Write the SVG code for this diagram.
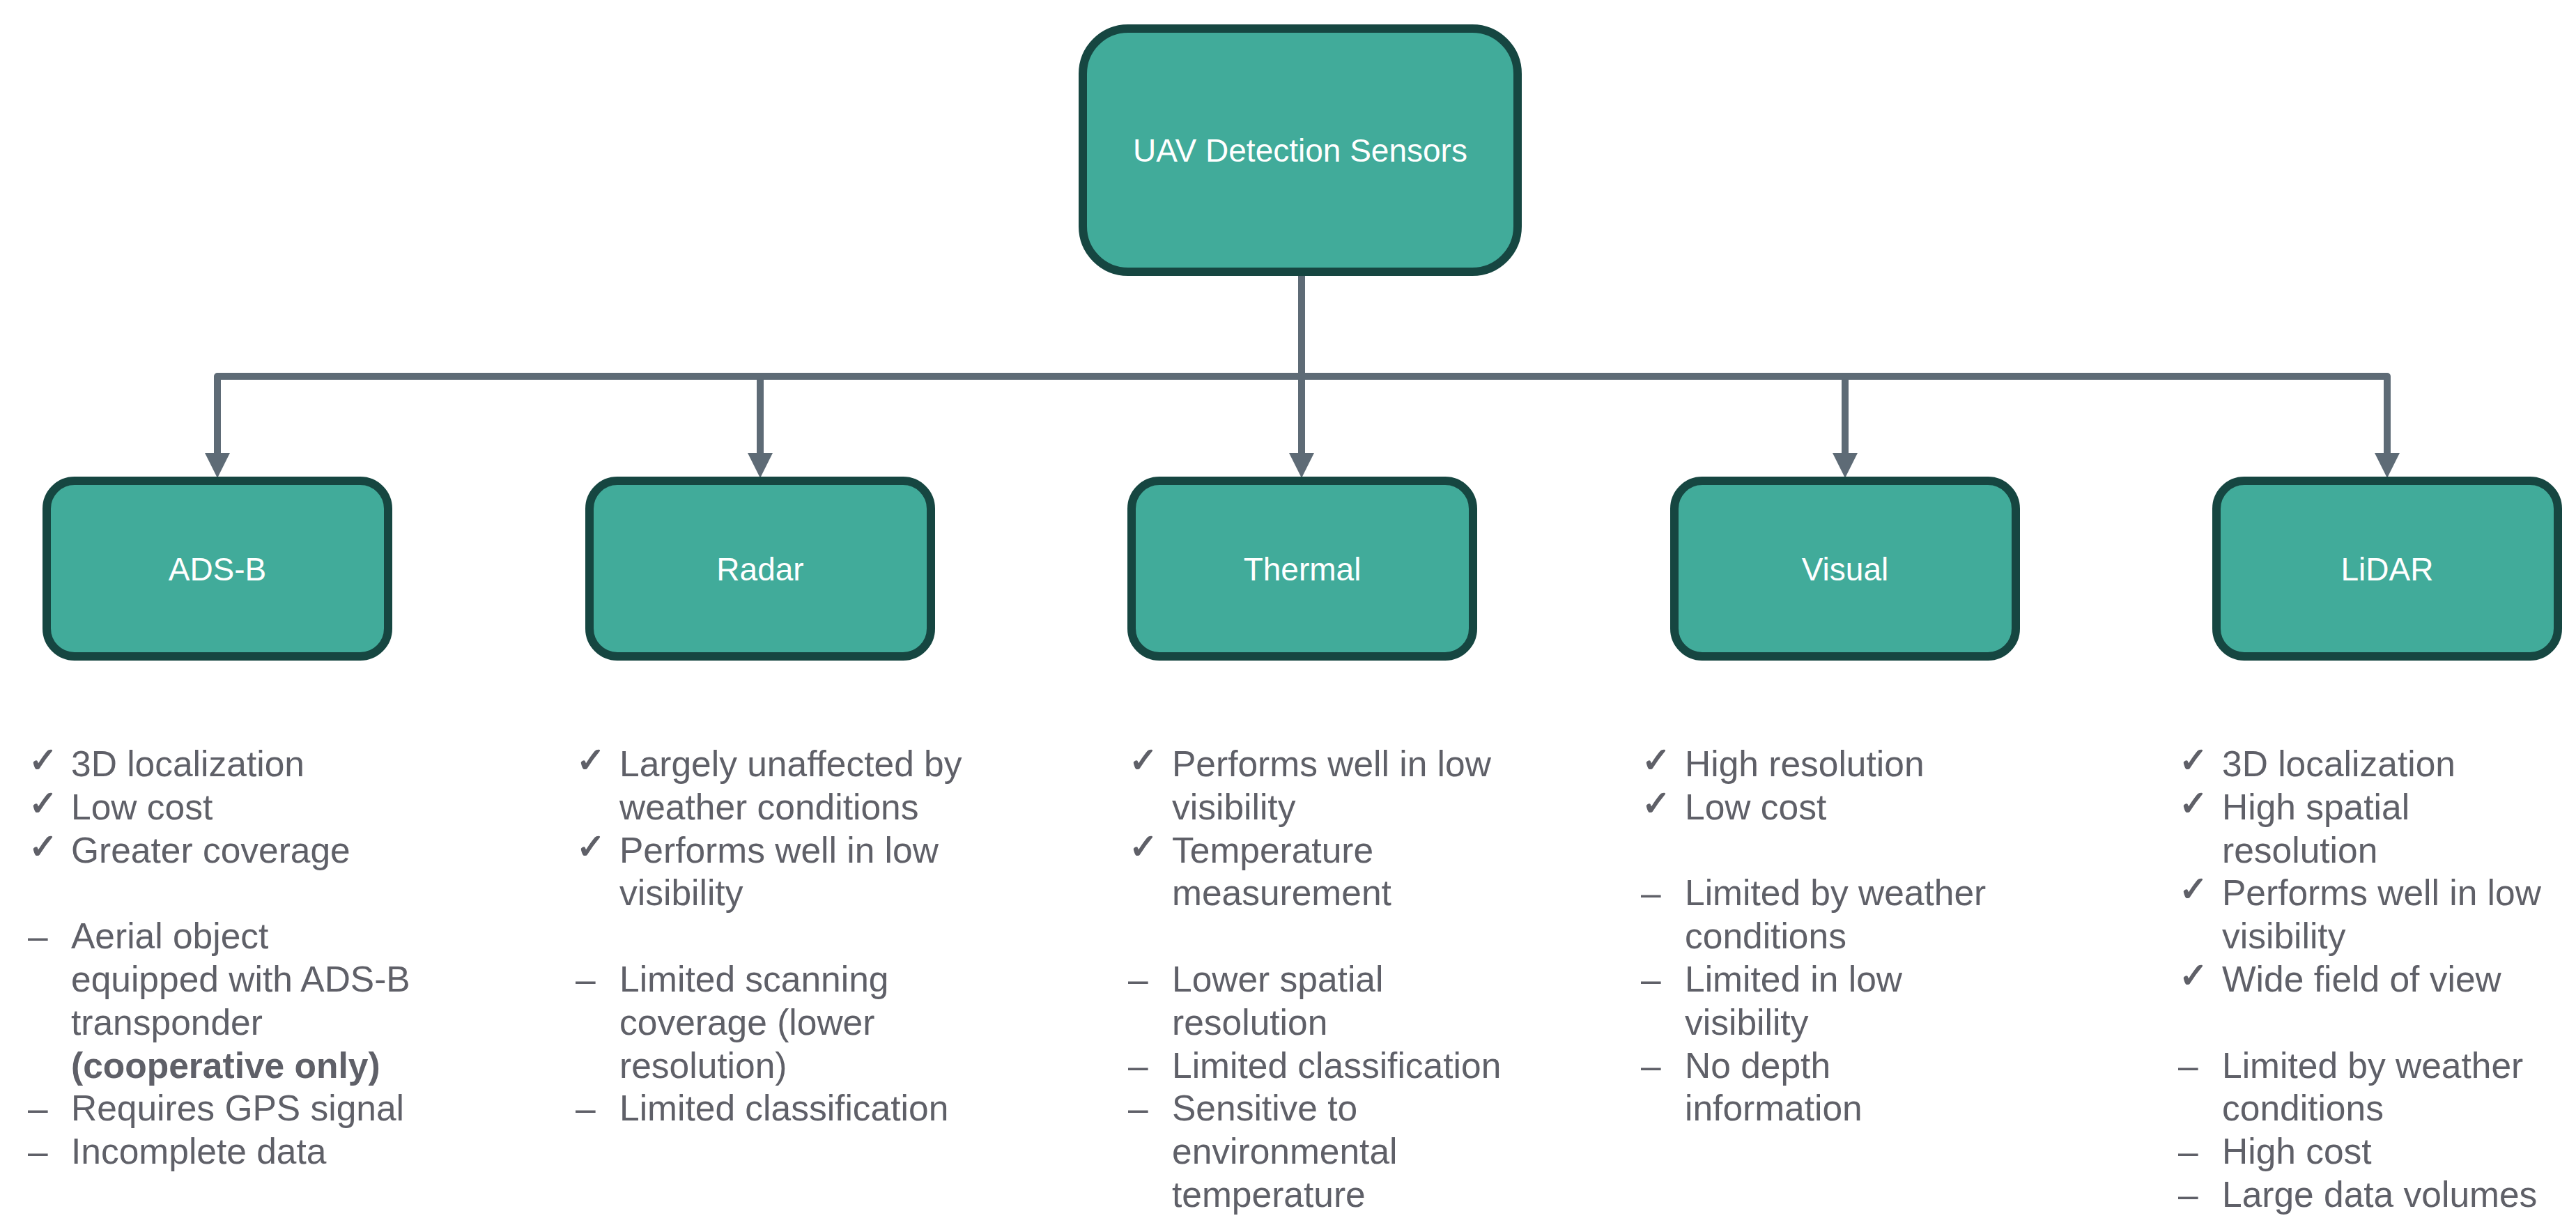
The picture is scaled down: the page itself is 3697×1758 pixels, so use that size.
<svg xmlns="http://www.w3.org/2000/svg" width="3697" height="1758" viewBox="0 0 3697 1758">
<defs>
<style>
.box{fill:#41ab9a;stroke:#164641;stroke-width:12}
.lbl{font-family:"Liberation Sans",Arial,sans-serif;font-size:46px;fill:#ffffff;text-anchor:middle}
.conn{fill:none;stroke:#5e6b76;stroke-width:10;stroke-linejoin:round}
.item{font-family:"Liberation Sans",Arial,sans-serif;font-size:51.5px;fill:#5f6068}
.bul{font-family:"DejaVu Sans",sans-serif;font-size:50px;fill:#5f6068;stroke:#5f6068;stroke-width:1.5}
.dash{font-family:"Liberation Sans",Arial,sans-serif;font-size:51.5px;fill:#5f6068}
.b{font-weight:bold}
</style>
<marker id="arr" viewBox="0 0 36 36" refX="0" refY="18" markerWidth="36" markerHeight="36" markerUnits="userSpaceOnUse" orient="auto">
<path d="M0,0 L36,18 L0,36 z" fill="#5e6b76"/>
</marker>
</defs>
<rect width="3697" height="1758" fill="#ffffff"/>
<g id="connectors">
<path class="conn" d="M1868,396 V650" marker-end="url(#arr)"/>
<path class="conn" d="M1868,540 H312 V650" marker-end="url(#arr)"/>
<path class="conn" d="M1868,540 H1091 V650" marker-end="url(#arr)"/>
<path class="conn" d="M1868,540 H2648 V650" marker-end="url(#arr)"/>
<path class="conn" d="M1868,540 H3426 V650" marker-end="url(#arr)"/>
</g>
<g id="root">
<rect class="box" x="1554" y="41" width="624" height="349" rx="65"/>
<text class="lbl" x="1866" y="232">UAV Detection Sensors</text>
</g>
<g id="adsb">
<rect class="box" x="67" y="690" width="490" height="252" rx="40"/>
<text class="lbl" x="312" y="833">ADS-B</text>
</g>
<g id="radar">
<rect class="box" x="846" y="690" width="490" height="252" rx="40"/>
<text class="lbl" x="1091" y="833">Radar</text>
</g>
<g id="thermal">
<rect class="box" x="1624" y="690" width="490" height="252" rx="40"/>
<text class="lbl" x="1869" y="833">Thermal</text>
</g>
<g id="visual">
<rect class="box" x="2403" y="690" width="490" height="252" rx="40"/>
<text class="lbl" x="2648" y="833">Visual</text>
</g>
<g id="lidar">
<rect class="box" x="3181" y="690" width="490" height="252" rx="40"/>
<text class="lbl" x="3426" y="833">LiDAR</text>
</g>
<g id="adsb-list">
<text class="bul" x="41" y="1108">✓</text>
<text class="bul" x="41" y="1170">✓</text>
<text class="bul" x="41" y="1232">✓</text>
<text class="dash" x="40" y="1361">–</text>
<text class="dash" x="40" y="1608">–</text>
<text class="dash" x="40" y="1670">–</text>
<text class="item" x="102" y="1114">3D localization</text>
<text class="item" x="102" y="1176">Low cost</text>
<text class="item" x="102" y="1238">Greater coverage</text>
<text class="item" x="102" y="1361">Aerial object</text>
<text class="item" x="102" y="1423">equipped with ADS-B</text>
<text class="item" x="102" y="1485">transponder</text>
<text class="item b" x="102" y="1547">(cooperative only)</text>
<text class="item" x="102" y="1608">Requires GPS signal</text>
<text class="item" x="102" y="1670">Incomplete data</text>
</g>
<g id="radar-list">
<text class="bul" x="827" y="1108">✓</text>
<text class="bul" x="827" y="1232">✓</text>
<text class="dash" x="826" y="1423">–</text>
<text class="dash" x="826" y="1608">–</text>
<text class="item" x="889" y="1114">Largely unaffected by</text>
<text class="item" x="889" y="1176">weather conditions</text>
<text class="item" x="889" y="1238">Performs well in low</text>
<text class="item" x="889" y="1299">visibility</text>
<text class="item" x="889" y="1423">Limited scanning</text>
<text class="item" x="889" y="1485">coverage (lower</text>
<text class="item" x="889" y="1547">resolution)</text>
<text class="item" x="889" y="1608">Limited classification</text>
</g>
<g id="thermal-list">
<text class="bul" x="1620" y="1108">✓</text>
<text class="bul" x="1620" y="1232">✓</text>
<text class="dash" x="1619" y="1423">–</text>
<text class="dash" x="1619" y="1547">–</text>
<text class="dash" x="1619" y="1608">–</text>
<text class="item" x="1682" y="1114">Performs well in low</text>
<text class="item" x="1682" y="1176">visibility</text>
<text class="item" x="1682" y="1238">Temperature</text>
<text class="item" x="1682" y="1299">measurement</text>
<text class="item" x="1682" y="1423">Lower spatial</text>
<text class="item" x="1682" y="1485">resolution</text>
<text class="item" x="1682" y="1547">Limited classification</text>
<text class="item" x="1682" y="1608">Sensitive to</text>
<text class="item" x="1682" y="1670">environmental</text>
<text class="item" x="1682" y="1732">temperature</text>
</g>
<g id="visual-list">
<text class="bul" x="2356" y="1108">✓</text>
<text class="bul" x="2356" y="1170">✓</text>
<text class="dash" x="2355" y="1299">–</text>
<text class="dash" x="2355" y="1423">–</text>
<text class="dash" x="2355" y="1547">–</text>
<text class="item" x="2418" y="1114">High resolution</text>
<text class="item" x="2418" y="1176">Low cost</text>
<text class="item" x="2418" y="1299">Limited by weather</text>
<text class="item" x="2418" y="1361">conditions</text>
<text class="item" x="2418" y="1423">Limited in low</text>
<text class="item" x="2418" y="1485">visibility</text>
<text class="item" x="2418" y="1547">No depth</text>
<text class="item" x="2418" y="1608">information</text>
</g>
<g id="lidar-list">
<text class="bul" x="3127" y="1108">✓</text>
<text class="bul" x="3127" y="1170">✓</text>
<text class="bul" x="3127" y="1293">✓</text>
<text class="bul" x="3127" y="1417">✓</text>
<text class="dash" x="3126" y="1547">–</text>
<text class="dash" x="3126" y="1670">–</text>
<text class="dash" x="3126" y="1732">–</text>
<text class="item" x="3189" y="1114">3D localization</text>
<text class="item" x="3189" y="1176">High spatial</text>
<text class="item" x="3189" y="1238">resolution</text>
<text class="item" x="3189" y="1299">Performs well in low</text>
<text class="item" x="3189" y="1361">visibility</text>
<text class="item" x="3189" y="1423">Wide field of view</text>
<text class="item" x="3189" y="1547">Limited by weather</text>
<text class="item" x="3189" y="1608">conditions</text>
<text class="item" x="3189" y="1670">High cost</text>
<text class="item" x="3189" y="1732">Large data volumes</text>
</g>
</svg>
